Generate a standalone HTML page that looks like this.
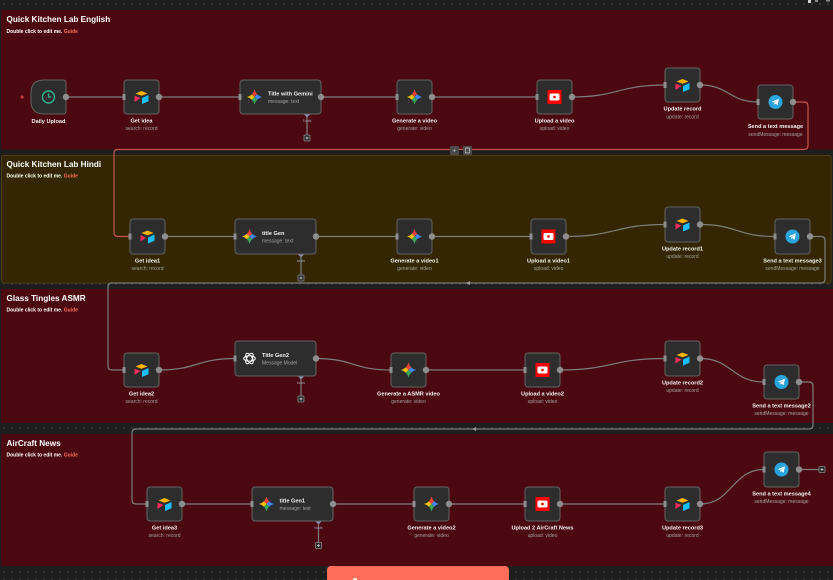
<!DOCTYPE html>
<html>
<head>
<meta charset="utf-8">
<style>
html,body{margin:0;padding:0;}
body{width:833px;height:580px;overflow:hidden;background-color:#1e1e1e;background-image:radial-gradient(circle,#383838 0.8px,transparent 1.1px);background-size:8px 8px;font-family:"Liberation Sans",sans-serif;}
svg{position:absolute;left:0;top:0;}
.t{font-family:"Liberation Sans",sans-serif;font-weight:bold;font-size:5.6px;fill:#f2f2f2;text-anchor:middle;}
.s{font-family:"Liberation Sans",sans-serif;font-size:5px;fill:#a3a3a3;text-anchor:middle;}
.ti{font-family:"Liberation Sans",sans-serif;font-weight:bold;font-size:5.6px;fill:#f2f2f2;}
.si{font-family:"Liberation Sans",sans-serif;font-size:5px;fill:#a3a3a3;}
.h{font-family:"Liberation Sans",sans-serif;font-weight:bold;font-size:8.2px;fill:#ffffff;}
.d{font-family:"Liberation Sans",sans-serif;font-weight:bold;font-size:5px;fill:#ffffff;}
.g{fill:#ff6d5a;}
.tl{font-family:"Liberation Sans",sans-serif;font-size:3.8px;fill:#a6a6c8;text-anchor:middle;}
.n{fill:#2d2d2d;stroke:#636363;stroke-width:1;}
.e{fill:none;stroke:#7e7e7e;stroke-width:1.2;}
.o{fill:#8e8e8e;}
.pb{fill:#262626;stroke:#8a8a8a;stroke-width:0.8;}
</style>
</head>
<body>
<svg width="833" height="580" viewBox="0 0 833 580" xmlns="http://www.w3.org/2000/svg">
<defs>
<clipPath id="gs"><path d="M0,-7.5 Q1.6,-1.6 7.5,0 Q1.6,1.6 0,7.5 Q-1.6,1.6 -7.5,0 Q-1.6,-1.6 0,-7.5Z"/></clipPath>
</defs>

<!-- sections -->
<rect x="1" y="10" width="834" height="139.5" rx="2" fill="#4b0810"/>
<rect x="1.5" y="155.5" width="829.5" height="127.5" rx="2" fill="#332600" stroke="#4d3e0c" stroke-width="1"/>
<rect x="1" y="289" width="834" height="134" rx="2" fill="#4b0810"/>
<rect x="1" y="434" width="834" height="132" rx="2" fill="#4b0810"/>

<!-- top right tiny icons -->
<rect x="808" y="0" width="3" height="3" fill="#cfcfcf"/>
<rect x="815" y="0" width="3" height="2" fill="#8a8a8a"/>
<rect x="826" y="0" width="4" height="1.5" fill="#8a8a8a"/>

<!-- section titles -->
<text class="h" x="6.5" y="22">Quick Kitchen Lab English</text>
<text class="d" x="6.5" y="33">Double click to edit me. <tspan class="g">Guide</tspan></text>
<text class="h" x="6.5" y="167">Quick Kitchen Lab Hindi</text>
<text class="d" x="6.5" y="177.5">Double click to edit me. <tspan class="g">Guide</tspan></text>
<text class="h" x="6.5" y="301">Glass Tingles ASMR</text>
<text class="d" x="6.5" y="311.5">Double click to edit me. <tspan class="g">Guide</tspan></text>
<text class="h" x="6.5" y="446">AirCraft News</text>
<text class="d" x="6.5" y="456.5">Double click to edit me. <tspan class="g">Guide</tspan></text>

<!-- ===== edges ===== -->
<!-- S1 -->
<path class="e" d="M66,97 H124 M159,97 H240 M321,97 H397 M432,97 H537"/>
<path class="e" d="M572,97 C618,97 618,85 665,85"/>
<path class="e" d="M700,85 C729,85 729,102 758,102"/>
<path d="M793,102 H804 Q808,102 808,106 V145.5 Q808,149.5 804,149.5 H118 Q114,149.5 114,153.5 V232.5 Q114,236.5 118,236.5 H130" fill="none" stroke="#c4554b" stroke-width="1.2"/>
<rect x="450" y="146" width="9" height="9" rx="1" fill="#4a4a4a"/>
<text x="454.5" y="152.7" style="font-family:'Liberation Sans',sans-serif;font-size:6px;fill:#cfcfcf;text-anchor:middle;">+</text>
<rect x="463" y="146" width="9" height="9" rx="1" fill="#4a4a4a"/>
<rect x="465.5" y="148" width="4" height="5" rx="0.5" fill="none" stroke="#cfcfcf" stroke-width="0.7"/>
<path d="M7.5,0" />
<!-- S1 tools -->
<path class="e" d="M307,114 V135"/>
<polygon points="307,110.5 310.5,114 307,117.5 303.5,114" fill="#8a8aa8"/>
<text class="tl" x="307" y="122">Tools</text>
<rect class="pb" x="304" y="135" width="6" height="6" rx="1"/>
<path d="M305.5,138 H308.5 M307,136.5 V139.5" stroke="#dcdcdc" stroke-width="0.7"/>

<!-- S2 -->
<path class="e" d="M165,236.5 H235 M316,236.5 H397 M432,236.5 H531"/>
<path class="e" d="M566,236.5 C615,236.5 615,224.5 665,224.5"/>
<path class="e" d="M700,224.5 C737,224.5 737,236.5 775,236.5"/>
<path class="e" d="M810,236.5 H821 Q825,236.5 825,240.5 V279 Q825,283 821,283 H112 Q108,283 108,287 V366 Q108,370 112,370 H124"/>
<polygon points="466,283 470,281 470,285" fill="#9a9a9a"/>
<path class="e" d="M301,254 V275"/>
<polygon points="301,250.5 304.5,254 301,257.5 297.5,254" fill="#8a8aa8"/>
<text class="tl" x="301" y="262">tools</text>
<rect class="pb" x="298" y="275" width="6" height="6" rx="1"/>
<path d="M299.5,278 H302.5 M301,276.5 V279.5" stroke="#dcdcdc" stroke-width="0.7"/>

<!-- S3 -->
<path class="e" d="M159,370 C197,370 197,358.5 235,358.5"/>
<path class="e" d="M316,358.5 C353,358.5 353,370 391,370"/>
<path class="e" d="M426,370 H525"/>
<path class="e" d="M560,370 C612,370 612,358.5 665,358.5"/>
<path class="e" d="M700,358.5 C732,358.5 732,382 764,382"/>
<path class="e" d="M799,382 H809 Q813,382 813,386 V425 Q813,429 809,429 H136 Q132,429 132,433 V500 Q132,504 136,504 H147"/>
<polygon points="472,429 476,427 476,431" fill="#9a9a9a"/>
<path class="e" d="M301,376 V396"/>
<polygon points="301,372.5 304.5,376 301,379.5 297.5,376" fill="#8a8aa8"/>
<text class="tl" x="301" y="384">tools</text>
<rect class="pb" x="298" y="396" width="6" height="6" rx="1"/>
<path d="M299.5,399 H302.5 M301,397.5 V400.5" stroke="#dcdcdc" stroke-width="0.7"/>

<!-- S4 -->
<path class="e" d="M182,504 H252 M333,504 H414 M449,504 H525 M560,504 H665"/>
<path class="e" d="M700,504 C732,504 732,469.5 764,469.5"/>
<path class="e" d="M799,469.5 H819"/>
<rect class="pb" x="819" y="466.5" width="6" height="6" rx="1"/>
<path d="M820.5,469.5 H823.5 M822,468 V471" stroke="#dcdcdc" stroke-width="0.7"/>
<path class="e" d="M318.5,521 V542.5"/>
<polygon points="318.5,517.5 322,521 318.5,524.5 315,521" fill="#8a8aa8"/>
<text class="tl" x="318.5" y="529">tools</text>
<rect class="pb" x="315.5" y="542.5" width="6" height="6" rx="1"/>
<path d="M317,545.5 H320 M318.5,544 V547" stroke="#dcdcdc" stroke-width="0.7"/>

<!-- ===== nodes ===== -->
<!-- S1 -->
<text x="22" y="99.5" style="font-family:'Liberation Sans',sans-serif;font-size:7px;fill:#ff5a48;text-anchor:middle;font-weight:bold;">+</text>
<path class="n" d="M44,80 H63 Q66,80 66,83 V111 Q66,114 63,114 H44 Q31,114 31,101 V93 Q31,80 44,80 Z"/>
<g transform="translate(48.5,97)"><circle r="6" fill="none" stroke="#2fb38b" stroke-width="1.4"/><path d="M0,-3.5 V0 H2.6" fill="none" stroke="#2fb38b" stroke-width="1.2"/></g>
<circle class="o" cx="66" cy="97" r="3.2"/>
<text class="t" x="48.5" y="123">Daily Upload</text>

<rect class="n" x="124" y="80" width="35" height="34" rx="3"/>
<g transform="translate(141.5,97)"><polygon points="-6,-3.5 0,-6 6,-3.5 0,-1.3" fill="#fcb400"/><polygon points="-7,-1.2 -1,1 -7,5" fill="#f82b60"/><polygon points="0.5,1 7,-2 7,4.2 0.5,7" fill="#18bfff"/></g>
<rect class="o" x="122.5" y="94" width="3" height="6"/>
<circle class="o" cx="159" cy="97" r="3.2"/>
<text class="t" x="141.5" y="122.5">Get idea</text>
<text class="s" x="141.5" y="130">search: record</text>

<rect class="n" x="240" y="80" width="81" height="34" rx="3"/>
<g transform="translate(254.5,97)"><g clip-path="url(#gs)"><polygon points="0,0 -8,-8 8,-8" fill="#ea4335"/><polygon points="0,0 8,-8 8,8" fill="#4285f4"/><polygon points="0,0 8,8 -8,8" fill="#34a853"/><polygon points="0,0 -8,8 -8,-8" fill="#fbbc04"/></g></g>
<text class="ti" x="268" y="95.3">Title with Gemini</text>
<text class="si" x="268" y="102.8">message: text</text>
<rect class="o" x="238.5" y="94" width="3" height="6"/>
<circle class="o" cx="321" cy="97" r="3.2"/>

<rect class="n" x="397" y="80" width="35" height="34" rx="3"/>
<g transform="translate(414.5,97)"><g clip-path="url(#gs)"><polygon points="0,0 -8,-8 8,-8" fill="#ea4335"/><polygon points="0,0 8,-8 8,8" fill="#4285f4"/><polygon points="0,0 8,8 -8,8" fill="#34a853"/><polygon points="0,0 -8,8 -8,-8" fill="#fbbc04"/></g></g>
<rect class="o" x="395.5" y="94" width="3" height="6"/>
<circle class="o" cx="432" cy="97" r="3.2"/>
<text class="t" x="414.5" y="122.5">Generate a video</text>
<text class="s" x="414.5" y="130">generate: video</text>

<rect class="n" x="537" y="80" width="35" height="34" rx="3"/>
<g transform="translate(554.5,97)"><rect x="-7" y="-7" width="14" height="14" fill="#ff0000"/><rect x="-5" y="-3.5" width="10" height="7" rx="1.5" fill="#fff"/><rect x="-1.2" y="-1.2" width="2.4" height="2.4" fill="#ff0000"/></g>
<rect class="o" x="535.5" y="94" width="3" height="6"/>
<circle class="o" cx="572" cy="97" r="3.2"/>
<text class="t" x="554.5" y="122.5">Upload a video</text>
<text class="s" x="554.5" y="130">upload: video</text>

<rect class="n" x="665" y="68" width="35" height="34" rx="3"/>
<g transform="translate(682.5,85)"><polygon points="-6,-3.5 0,-6 6,-3.5 0,-1.3" fill="#fcb400"/><polygon points="-7,-1.2 -1,1 -7,5" fill="#f82b60"/><polygon points="0.5,1 7,-2 7,4.2 0.5,7" fill="#18bfff"/></g>
<rect class="o" x="663.5" y="82" width="3" height="6"/>
<circle class="o" cx="700" cy="85" r="3.2"/>
<text class="t" x="682.5" y="110.5">Update record</text>
<text class="s" x="682.5" y="118.5">update: record</text>

<rect class="n" x="758" y="85" width="35" height="34" rx="3"/>
<g transform="translate(775.5,102)"><circle r="7" fill="#2aa4dd"/><path d="M-3.8,-0.3 L3.4,-3.2 L2.2,3.2 L-0.2,1.6 L-1.3,2.7 L-1.2,0.9 L2.2,-1.9 L-1.7,0.5 Z" fill="#fff"/></g>
<rect class="o" x="756.5" y="99" width="3" height="6"/>
<circle class="o" cx="793" cy="102" r="3.2"/>
<text class="t" x="775.5" y="128">Send a text message</text>
<text class="s" x="775.5" y="136">sendMessage: message</text>

<!-- S2 -->
<rect class="n" x="130" y="219" width="35" height="35" rx="3"/>
<g transform="translate(147.5,236.5)"><polygon points="-6,-3.5 0,-6 6,-3.5 0,-1.3" fill="#fcb400"/><polygon points="-7,-1.2 -1,1 -7,5" fill="#f82b60"/><polygon points="0.5,1 7,-2 7,4.2 0.5,7" fill="#18bfff"/></g>
<rect class="o" x="128.5" y="233.5" width="3" height="6"/>
<circle class="o" cx="165" cy="236.5" r="3.2"/>
<text class="t" x="147.5" y="262.5">Get idea1</text>
<text class="s" x="147.5" y="270">search: record</text>

<rect class="n" x="235" y="219" width="81" height="35" rx="3"/>
<g transform="translate(249.5,236.5)"><g clip-path="url(#gs)"><polygon points="0,0 -8,-8 8,-8" fill="#ea4335"/><polygon points="0,0 8,-8 8,8" fill="#4285f4"/><polygon points="0,0 8,8 -8,8" fill="#34a853"/><polygon points="0,0 -8,8 -8,-8" fill="#fbbc04"/></g></g>
<text class="ti" x="262" y="235">title Gen</text>
<text class="si" x="262" y="242.3">message: text</text>
<rect class="o" x="233.5" y="233.5" width="3" height="6"/>
<circle class="o" cx="316" cy="236.5" r="3.2"/>

<rect class="n" x="397" y="219" width="35" height="35" rx="3"/>
<g transform="translate(414.5,236.5)"><g clip-path="url(#gs)"><polygon points="0,0 -8,-8 8,-8" fill="#ea4335"/><polygon points="0,0 8,-8 8,8" fill="#4285f4"/><polygon points="0,0 8,8 -8,8" fill="#34a853"/><polygon points="0,0 -8,8 -8,-8" fill="#fbbc04"/></g></g>
<rect class="o" x="395.5" y="233.5" width="3" height="6"/>
<circle class="o" cx="432" cy="236.5" r="3.2"/>
<text class="t" x="414.5" y="262.5">Generate a video1</text>
<text class="s" x="414.5" y="270">generate: video</text>

<rect class="n" x="531" y="219" width="35" height="35" rx="3"/>
<g transform="translate(548.5,236.5)"><rect x="-7" y="-7" width="14" height="14" fill="#ff0000"/><rect x="-5" y="-3.5" width="10" height="7" rx="1.5" fill="#fff"/><rect x="-1.2" y="-1.2" width="2.4" height="2.4" fill="#ff0000"/></g>
<rect class="o" x="529.5" y="233.5" width="3" height="6"/>
<circle class="o" cx="566" cy="236.5" r="3.2"/>
<text class="t" x="548.5" y="262.5">Upload a video1</text>
<text class="s" x="548.5" y="270">upload: video</text>

<rect class="n" x="665" y="207" width="35" height="35" rx="3"/>
<g transform="translate(682.5,224.5)"><polygon points="-6,-3.5 0,-6 6,-3.5 0,-1.3" fill="#fcb400"/><polygon points="-7,-1.2 -1,1 -7,5" fill="#f82b60"/><polygon points="0.5,1 7,-2 7,4.2 0.5,7" fill="#18bfff"/></g>
<rect class="o" x="663.5" y="221.5" width="3" height="6"/>
<circle class="o" cx="700" cy="224.5" r="3.2"/>
<text class="t" x="682.5" y="250.5">Update record1</text>
<text class="s" x="682.5" y="258">update: record</text>

<rect class="n" x="775" y="219" width="35" height="35" rx="3"/>
<g transform="translate(792.5,236.5)"><circle r="7" fill="#2aa4dd"/><path d="M-3.8,-0.3 L3.4,-3.2 L2.2,3.2 L-0.2,1.6 L-1.3,2.7 L-1.2,0.9 L2.2,-1.9 L-1.7,0.5 Z" fill="#fff"/></g>
<rect class="o" x="773.5" y="233.5" width="3" height="6"/>
<circle class="o" cx="810" cy="236.5" r="3.2"/>
<text class="t" x="792.5" y="262.5">Send a text message3</text>
<text class="s" x="792.5" y="270">sendMessage: message</text>

<!-- S3 -->
<rect class="n" x="124" y="353" width="35" height="34" rx="3"/>
<g transform="translate(141.5,370)"><polygon points="-6,-3.5 0,-6 6,-3.5 0,-1.3" fill="#fcb400"/><polygon points="-7,-1.2 -1,1 -7,5" fill="#f82b60"/><polygon points="0.5,1 7,-2 7,4.2 0.5,7" fill="#18bfff"/></g>
<rect class="o" x="122.5" y="367" width="3" height="6"/>
<circle class="o" cx="159" cy="370" r="3.2"/>
<text class="t" x="141.5" y="395.5">Get idea2</text>
<text class="s" x="141.5" y="403">search: record</text>

<rect class="n" x="235" y="341" width="81" height="35" rx="3"/>
<g transform="translate(249.5,358.5)" fill="none" stroke="#ffffff" stroke-width="1"><ellipse rx="5.8" ry="2.7"/><ellipse rx="5.8" ry="2.7" transform="rotate(60)"/><ellipse rx="5.8" ry="2.7" transform="rotate(120)"/></g>
<text class="ti" x="262" y="357">Title Gen2</text>
<text class="si" x="262" y="364.3">Message Model</text>
<rect class="o" x="233.5" y="355.5" width="3" height="6"/>
<circle class="o" cx="316" cy="358.5" r="3.2"/>

<rect class="n" x="391" y="353" width="35" height="34" rx="3"/>
<g transform="translate(408.5,370)"><g clip-path="url(#gs)"><polygon points="0,0 -8,-8 8,-8" fill="#ea4335"/><polygon points="0,0 8,-8 8,8" fill="#4285f4"/><polygon points="0,0 8,8 -8,8" fill="#34a853"/><polygon points="0,0 -8,8 -8,-8" fill="#fbbc04"/></g></g>
<rect class="o" x="389.5" y="367" width="3" height="6"/>
<circle class="o" cx="426" cy="370" r="3.2"/>
<text class="t" x="408.5" y="395.5">Generate a ASMR video</text>
<text class="s" x="408.5" y="403">generate: video</text>

<rect class="n" x="525" y="353" width="35" height="34" rx="3"/>
<g transform="translate(542.5,370)"><rect x="-7" y="-7" width="14" height="14" fill="#ff0000"/><rect x="-5" y="-3.5" width="10" height="7" rx="1.5" fill="#fff"/><rect x="-1.2" y="-1.2" width="2.4" height="2.4" fill="#ff0000"/></g>
<rect class="o" x="523.5" y="367" width="3" height="6"/>
<circle class="o" cx="560" cy="370" r="3.2"/>
<text class="t" x="542.5" y="395.5">Upload a video2</text>
<text class="s" x="542.5" y="403">upload: video</text>

<rect class="n" x="665" y="341" width="35" height="35" rx="3"/>
<g transform="translate(682.5,358.5)"><polygon points="-6,-3.5 0,-6 6,-3.5 0,-1.3" fill="#fcb400"/><polygon points="-7,-1.2 -1,1 -7,5" fill="#f82b60"/><polygon points="0.5,1 7,-2 7,4.2 0.5,7" fill="#18bfff"/></g>
<rect class="o" x="663.5" y="355.5" width="3" height="6"/>
<circle class="o" cx="700" cy="358.5" r="3.2"/>
<text class="t" x="682.5" y="384.5">Update record2</text>
<text class="s" x="682.5" y="392">update: record</text>

<rect class="n" x="764" y="365" width="35" height="34" rx="3"/>
<g transform="translate(781.5,382)"><circle r="7" fill="#2aa4dd"/><path d="M-3.8,-0.3 L3.4,-3.2 L2.2,3.2 L-0.2,1.6 L-1.3,2.7 L-1.2,0.9 L2.2,-1.9 L-1.7,0.5 Z" fill="#fff"/></g>
<rect class="o" x="762.5" y="379" width="3" height="6"/>
<circle class="o" cx="799" cy="382" r="3.2"/>
<text class="t" x="781.5" y="407.5">Send a text message2</text>
<text class="s" x="781.5" y="415">sendMessage: message</text>

<!-- S4 -->
<rect class="n" x="147" y="487" width="35" height="34" rx="3"/>
<g transform="translate(164.5,504)"><polygon points="-6,-3.5 0,-6 6,-3.5 0,-1.3" fill="#fcb400"/><polygon points="-7,-1.2 -1,1 -7,5" fill="#f82b60"/><polygon points="0.5,1 7,-2 7,4.2 0.5,7" fill="#18bfff"/></g>
<rect class="o" x="145.5" y="501" width="3" height="6"/>
<circle class="o" cx="182" cy="504" r="3.2"/>
<text class="t" x="164.5" y="529.5">Get idea3</text>
<text class="s" x="164.5" y="537">search: record</text>

<rect class="n" x="252" y="487" width="81" height="34" rx="3"/>
<g transform="translate(266.5,504)"><g clip-path="url(#gs)"><polygon points="0,0 -8,-8 8,-8" fill="#ea4335"/><polygon points="0,0 8,-8 8,8" fill="#4285f4"/><polygon points="0,0 8,8 -8,8" fill="#34a853"/><polygon points="0,0 -8,8 -8,-8" fill="#fbbc04"/></g></g>
<text class="ti" x="279.5" y="502.5">title Gen1</text>
<text class="si" x="279.5" y="509.8">message: text</text>
<rect class="o" x="250.5" y="501" width="3" height="6"/>
<circle class="o" cx="333" cy="504" r="3.2"/>

<rect class="n" x="414" y="487" width="35" height="34" rx="3"/>
<g transform="translate(431.5,504)"><g clip-path="url(#gs)"><polygon points="0,0 -8,-8 8,-8" fill="#ea4335"/><polygon points="0,0 8,-8 8,8" fill="#4285f4"/><polygon points="0,0 8,8 -8,8" fill="#34a853"/><polygon points="0,0 -8,8 -8,-8" fill="#fbbc04"/></g></g>
<rect class="o" x="412.5" y="501" width="3" height="6"/>
<circle class="o" cx="449" cy="504" r="3.2"/>
<text class="t" x="431.5" y="529.5">Generate a video2</text>
<text class="s" x="431.5" y="537">generate: video</text>

<rect class="n" x="525" y="487" width="35" height="34" rx="3"/>
<g transform="translate(542.5,504)"><rect x="-7" y="-7" width="14" height="14" fill="#ff0000"/><rect x="-5" y="-3.5" width="10" height="7" rx="1.5" fill="#fff"/><rect x="-1.2" y="-1.2" width="2.4" height="2.4" fill="#ff0000"/></g>
<rect class="o" x="523.5" y="501" width="3" height="6"/>
<circle class="o" cx="560" cy="504" r="3.2"/>
<text class="t" x="542.5" y="529.5">Upload 2 AirCraft News</text>
<text class="s" x="542.5" y="537">upload: video</text>

<rect class="n" x="665" y="487" width="35" height="34" rx="3"/>
<g transform="translate(682.5,504)"><polygon points="-6,-3.5 0,-6 6,-3.5 0,-1.3" fill="#fcb400"/><polygon points="-7,-1.2 -1,1 -7,5" fill="#f82b60"/><polygon points="0.5,1 7,-2 7,4.2 0.5,7" fill="#18bfff"/></g>
<rect class="o" x="663.5" y="501" width="3" height="6"/>
<circle class="o" cx="700" cy="504" r="3.2"/>
<text class="t" x="682.5" y="529.5">Update record3</text>
<text class="s" x="682.5" y="537">update: record</text>

<rect class="n" x="764" y="452" width="35" height="35" rx="3"/>
<g transform="translate(781.5,469.5)"><circle r="7" fill="#2aa4dd"/><path d="M-3.8,-0.3 L3.4,-3.2 L2.2,3.2 L-0.2,1.6 L-1.3,2.7 L-1.2,0.9 L2.2,-1.9 L-1.7,0.5 Z" fill="#fff"/></g>
<rect class="o" x="762.5" y="466.5" width="3" height="6"/>
<circle class="o" cx="799" cy="469.5" r="3.2"/>
<text class="t" x="781.5" y="495.5">Send a text message4</text>
<text class="s" x="781.5" y="503">sendMessage: message</text>

<!-- bottom button -->
<rect x="327" y="566" width="182" height="22" rx="4" fill="#ff6d5a"/>
<rect x="353" y="578" width="4" height="2" fill="#ffe3de"/>
</svg>
</body>
</html>
